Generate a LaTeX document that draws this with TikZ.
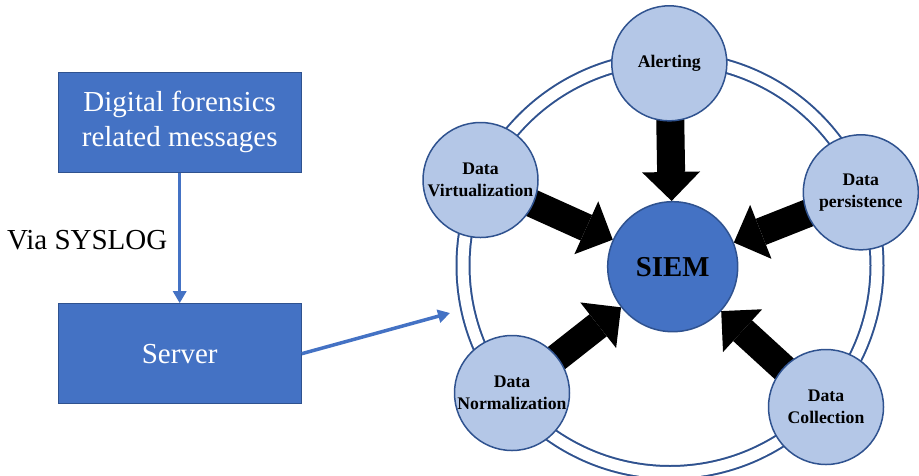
\documentclass[tikz,border=0pt]{standalone}
\usepackage{fontspec}
\setmainfont{Liberation Serif}
\usetikzlibrary{arrows.meta,backgrounds}
\definecolor{boxblue}{HTML}{4472C4}
\definecolor{edgeblue}{HTML}{2F528F}
\definecolor{lightblue}{HTML}{B4C7E7}

\begin{document}
\begin{tikzpicture}[x=1pt,y=-1pt,
    box/.style={draw=edgeblue, line width=1pt, fill=boxblue, text=white,
      minimum width=243pt, minimum height=100pt, inner sep=0pt, align=center,
      font=\fontsize{29}{35.5}\selectfont},
    part/.style={circle, draw=edgeblue, line width=1.5pt, fill=lightblue,
      minimum size=115pt, inner sep=0pt, align=center,
      font=\bfseries\fontsize{17.7}{21.7}\selectfont},
    core/.style={circle, draw=edgeblue, line width=1.5pt, fill=boxblue,
      minimum size=130pt, inner sep=0pt, font=\bfseries\fontsize{28.8}{34}\selectfont},
    ring/.style={circle, draw=edgeblue, line width=2pt, double=white,
      double distance=11pt, minimum size=414pt, inner sep=0pt},
    link/.style={draw=boxblue, line width=3.5pt, -{Triangle[width=13pt,length=12pt]}},
    push/.style={line width=28pt, shorten <=-8pt,
      -{Triangle[width=58pt,length=29pt,line width=0pt]}}]
  \useasboundingbox (0,0) rectangle (919,475);
  % Outer ring
  \node[ring] (ring) at (670,265.5) {};
  % Message source and server
  \node[box] (forensics) at (179.7,122) {Digital forensics\\related messages};
  \node[box] (server) at (179.7,353.7) {Server};
  \node[anchor=west, inner sep=0pt, font=\fontsize{29}{35}\selectfont] (via) at (7,240) {Via SYSLOG};
  \coordinate (ringin) at (450,313);
  \draw[link] (forensics) -- (server);
  \draw[link] (server.east) -- (ringin);
  % SIEM and its parts
  \node[core] (siem) at (672.7,266.7) {SIEM};
  \node[part] (alert) at (669.3,63.3) {Alerting};
  \node[part] (virt) at (480.5,180) {Data\\Virtualization};
  \node[part] (persist) at (860.8,192.3) {Data\\persistence};
  \node[part] (norm) at (512,393) {Data\\Normalization};
  \node[part] (collect) at (826,407) {Data\\Collection};
  % Block arrows
  \begin{scope}[on background layer]
    \foreach \src in {alert,virt,persist,norm,collect}
      \draw[push] (\src) -- (siem);
  \end{scope}
\end{tikzpicture}
\end{document}
